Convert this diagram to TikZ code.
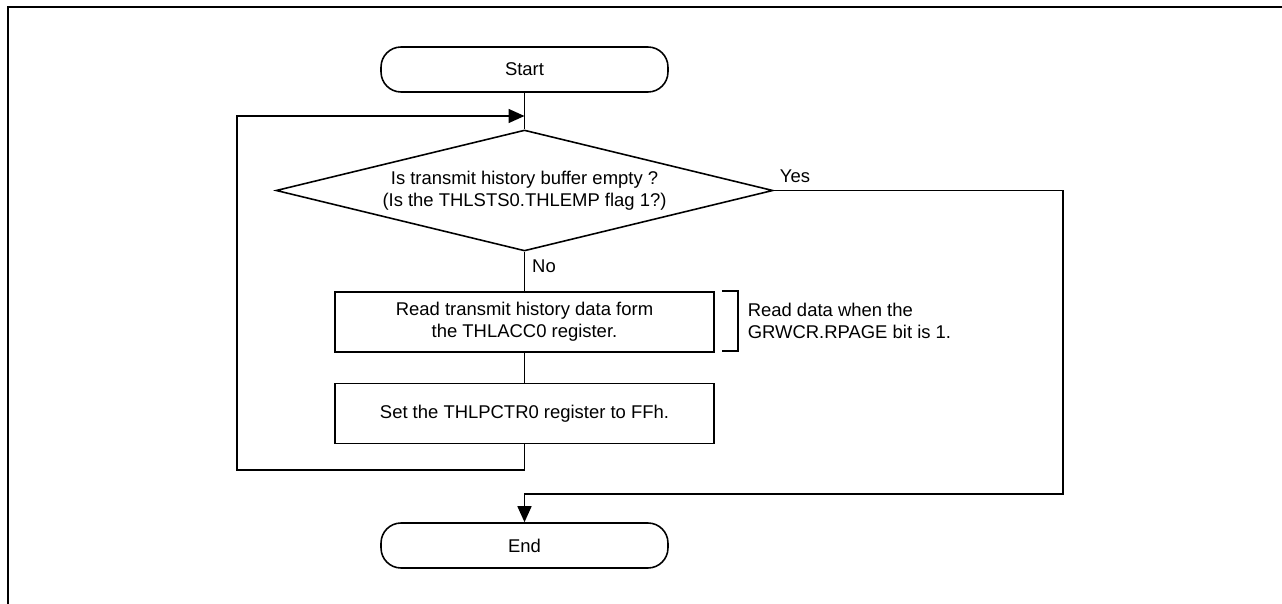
\documentclass[tikz,border=0pt]{standalone}
\usepackage{fontspec}
\setmainfont{Liberation Sans}
\usetikzlibrary{shapes.geometric,arrows.meta}

\begin{document}
\begin{tikzpicture}[x=0.02cm,y=-0.02cm,
  font=\fontsize{10.5}{12.6}\selectfont,
  line width=0.9pt,
  terminal/.style={draw,rounded corners=0.4cm,minimum width=5.74cm,minimum height=0.9cm,inner sep=0pt},
  process/.style={draw,minimum width=7.58cm,minimum height=1.2cm,align=center,inner sep=0pt},
  decision/.style={draw,diamond,aspect=4.1,minimum width=9.94cm,minimum height=2.42cm,align=center,inner sep=0pt},
  flow/.style={-{Triangle[length=0.32cm,width=0.28cm]}}]
\useasboundingbox (0,0) rectangle (1282,604);
% frame
\draw[line width=1.5pt] (1282,7) -- (8,7) -- (8,604);
% nodes
\node[terminal] (start) at (524.5,69.5) {Start};
\node[decision] (dec) at (524.5,190.5) {Is transmit history buffer empty ?\\(Is the THLSTS0.THLEMP flag 1?)};
\node[process] (read) at (524.5,322) {Read transmit history data form\\the THLACC0 register.};
\node[process] (set) at (524.5,413.5) {Set the THLPCTR0 register to FFh.};
\node[terminal] (end) at (524.5,545.5) {End};
\node[inner sep=0pt] (yes) at (795,176) {Yes};
\node[inner sep=0pt] (no) at (544,266) {No};
% note
\draw (read.north east) ++(7,0) -- ++(16,0) -- ++(0,60) -- ++(-16,0);
\node[anchor=west,align=left,inner sep=0pt] (note) at (747,321) {Read data when the\\GRWCR.RPAGE bit is 1.};
% connectors
\coordinate (merge) at (524.5,116);
\coordinate (back) at (237,470);
\coordinate (yesturn) at (1063,494);
\draw (start) -- (dec);
\draw (dec) -- (read);
\draw (read) -- (set);
\draw[flow] (set.south) |- (back) |- (merge);
\draw[flow] (dec.east) -| (yesturn) -| (end.north);
\end{tikzpicture}
\end{document}
